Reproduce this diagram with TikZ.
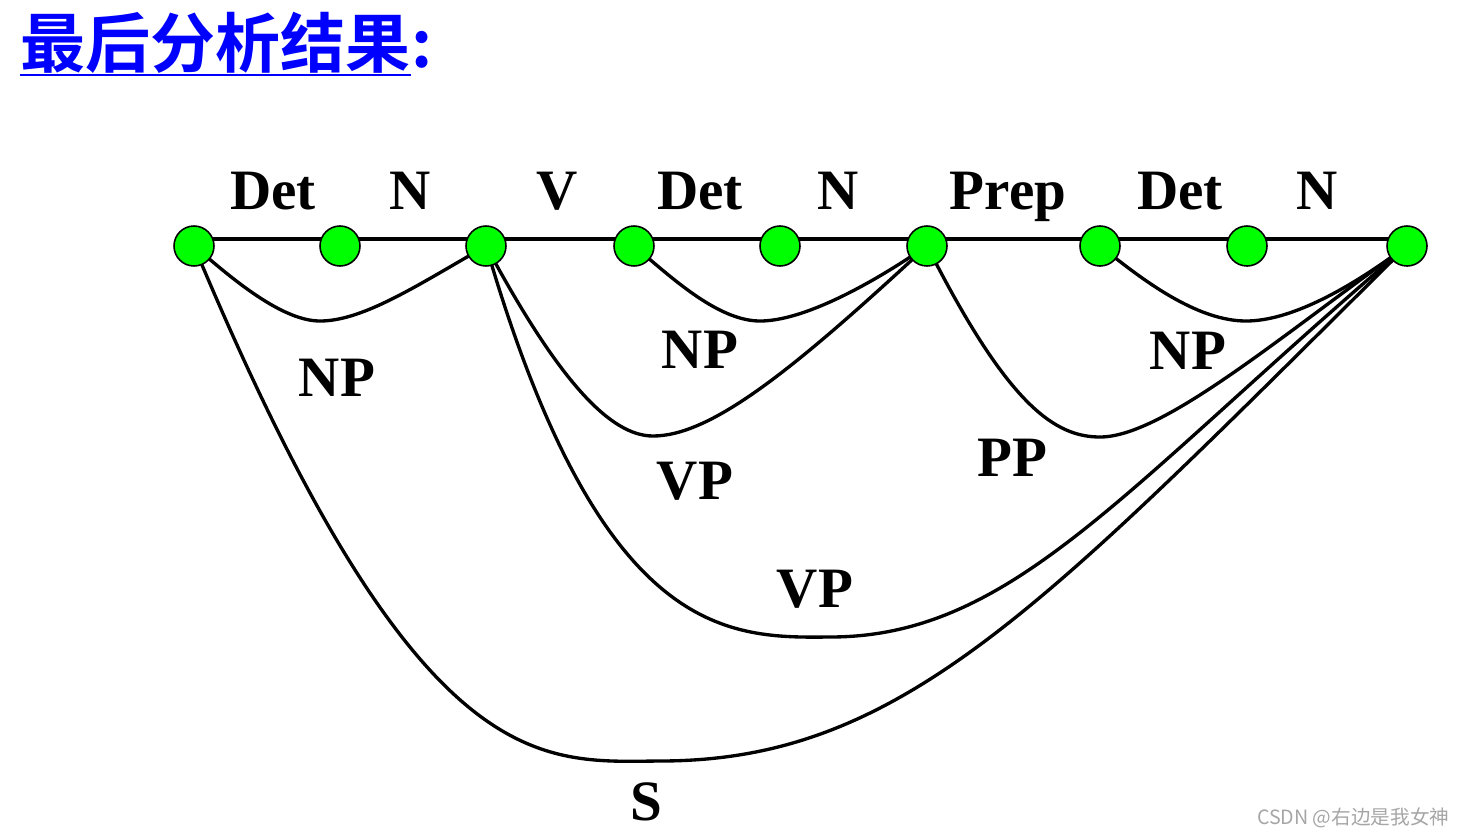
\documentclass[tikz,border=0pt]{standalone}
\usepackage{fontspec}
\setmainfont{Liberation Serif}
\newfontfamily\cjk{Noto Sans CJK SC}[BoldFont={Noto Sans CJK SC Bold}]
\usetikzlibrary{backgrounds}
\definecolor{nodegreen}{RGB}{0,255,0}
\definecolor{titleblue}{RGB}{0,0,255}
\tikzset{
    dot/.style={circle, draw=black, line width=0.9pt, fill=nodegreen, minimum size=0.8cm, inner sep=0pt, outer sep=0pt},
    cat/.style={anchor=base, inner sep=0pt, font=\fontsize{32.5}{40}\selectfont\bfseries},
    link/.style={line width=1.9pt},
    headline/.style={anchor=base west, inner sep=0pt, text=titleblue, font=\cjk\fontsize{37}{44}\selectfont\bfseries}
}
\begin{document}
\begin{tikzpicture}[x=0.02cm, y=-0.02cm]
        \useasboundingbox (0,0) rectangle (1464,836);
        % The title, underlined.
            \node[headline] (title) at (20,67) {最后分析结果};
            \node[headline] (colon) at (title.base east) {:};
            \draw[titleblue, line width=1.7pt] ([yshift=-0.16cm]title.base west) -- ([yshift=-0.16cm]title.base east);
        % Chart vertices.
            \node[dot] (n0) at (194,246) {};
            \node[dot] (n1) at (340,246) {};
            \node[dot] (n2) at (486,246) {};
            \node[dot] (n3) at (634,246) {};
            \node[dot] (n4) at (780,246) {};
            \node[dot] (n5) at (927,246) {};
            \node[dot] (n6) at (1100,246) {};
            \node[dot] (n7) at (1247,246) {};
            \node[dot] (n8) at (1407,246) {};
        % The word categories on top.
            \node[cat] (det1) at (273,209) {Det};
            \node[cat] (noun1) at (410,209) {N};
            \node[cat] (verb) at (557,209) {V};
            \node[cat] (det2) at (700,209) {Det};
            \node[cat] (noun2) at (838,209) {N};
            \node[cat] (prep) at (1008,209) {Prep};
            \node[cat] (det3) at (1180,209) {Det};
            \node[cat] (noun3) at (1317,209) {N};
        % The straight edge goes behind the vertices.
        \begin{pgfonlayer}{background}
            \draw[line width=2.3pt] ([yshift=0.14cm]n0.center) -- ([yshift=0.14cm]n8.center);
        \end{pgfonlayer}
        % Below are the arcs of the phrases.
            \draw[link] (n0) .. controls (240,285) and (285,321) .. (320,321) .. controls (360,321) and (410,290) .. (n2);
            \draw[link] (n3) .. controls (680,285) and (722,321) .. (760,321) .. controls (800,321) and (860,290) .. (n5);
            \draw[link] (n6) .. controls (1150,285) and (1200,321) .. (1246,321) .. controls (1290,321) and (1345,290) .. (n8);
            \draw[link] (n2) .. controls (560,380) and (610,436) .. (653,436) .. controls (710,436) and (790,372) .. (n5);
            \draw[link] (n5) .. controls (1010,405) and (1055,437) .. (1100,437) .. controls (1160,437) and (1270,345) .. (n8);
            \draw[link] (n2) .. controls (605,640) and (730,638) .. (830,637) .. controls (1010,637) and (1120,492) .. (n8);
            \draw[link] (n0) .. controls (420,780) and (540,762) .. (660,761) .. controls (900,761) and (1040,610) .. (n8);
        % Phrase labels.
            \node[cat] (np1) at (337,396) {NP};
            \node[cat] (np2) at (700,368) {NP};
            \node[cat] (np3) at (1188,369) {NP};
            \node[cat] (vp1) at (695,499) {VP};
            \node[cat] (pp) at (1012,476) {PP};
            \node[cat] (vp2) at (815,607) {VP};
            \node[cat] (sent) at (646,820) {S};
        %\node at (1350,816) {watermark};
            \node[anchor=base east, inner sep=0pt, text=black!35, font=\cjk\fontsize{11.2}{13}\selectfont] (mark) at (1450,824) {CSDN @右边是我女神};
    \end{tikzpicture}
\end{document}
